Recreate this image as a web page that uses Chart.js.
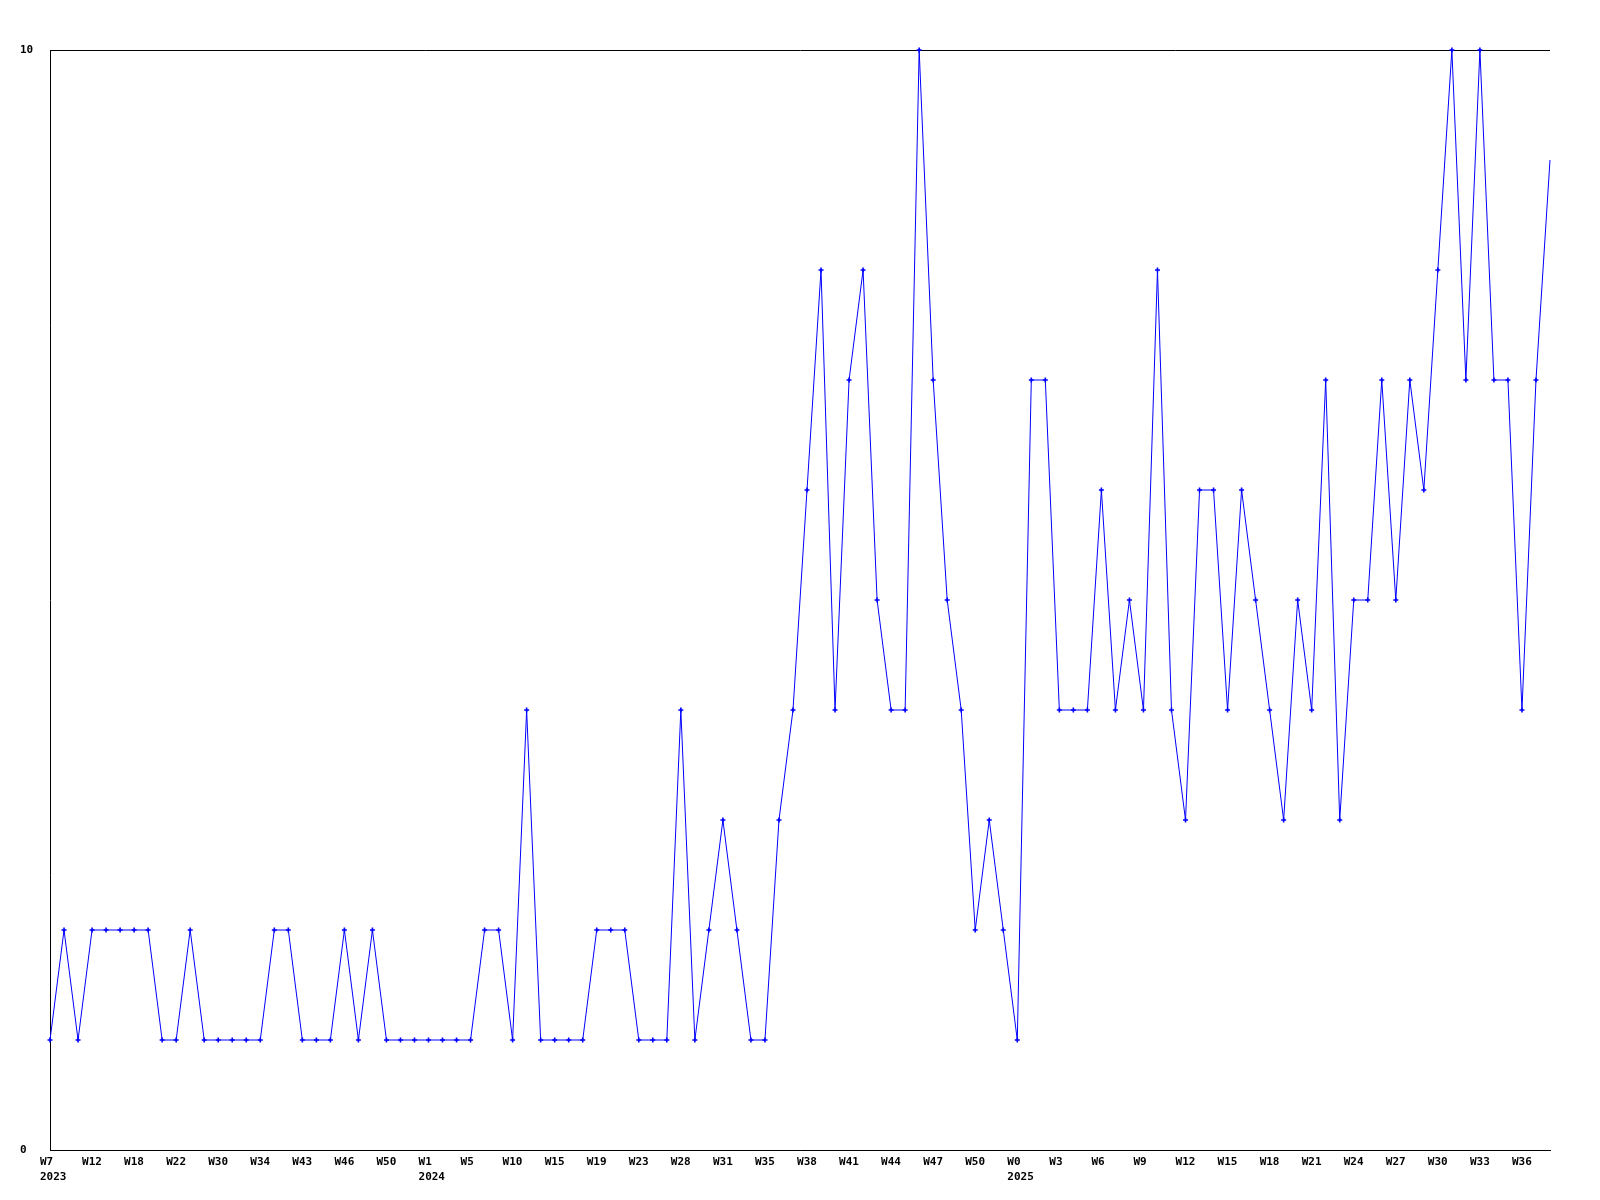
<!DOCTYPE html>
<html>
<head>
<meta charset="utf-8">
<script src="https://cdn.jsdelivr.net/npm/chart.js@4/dist/chart.umd.min.js"></script>
<style>
  html, body { margin: 0; padding: 0; background: #ffffff; }
  #wrap { width: 1600px; height: 1200px; position: relative; }
</style>
</head>
<body>
<div id="wrap"><canvas id="c"></canvas></div>
<script>
// Week numbers of each data point, per year
const weeks2023 = [7, 9, 10, 12, 14, 16, 18, 19, 20, 22, 25, 28, 30, 31, 33, 34, 37, 40, 43, 44, 45, 46, 47, 49, 50, 51, 52];
const weeks2024 = [1, 2, 3, 5, 7, 8, 10, 11, 13, 15, 16, 18, 19, 20, 22, 23, 25, 26, 28, 29, 30, 31, 32, 34, 35, 36, 37, 38, 39, 40, 41, 42, 43, 44, 45, 46, 47, 48, 49, 50, 51, 52];
const weeks2025 = [0, 1, 2, 3, 4, 5, 6, 7, 8, 9, 10, 11, 12, 13, 14, 15, 16, 17, 18, 19, 20, 21, 22, 23, 24, 25, 26, 27, 28, 29, 30, 31, 32, 33, 34, 35, 36, 37, 38];

// Series values (one per week)
const values = [
  1, 2, 1, 2, 2, 2, 2, 2, 1, 1, 2, 1, 1, 1, 1, 1, 2, 2, 1, 1, 1, 2, 1, 2, 1, 1,
  1, 1, 1, 1, 1, 2, 2, 1, 4, 1, 1, 1, 1, 2, 2, 2, 1, 1, 1, 4, 1, 2, 3, 2, 1, 1,
  3, 4, 6, 8, 4, 7, 8, 5, 4, 4, 10, 7, 5, 4, 2, 3, 2, 1, 7, 7, 4, 4, 4, 6, 4, 5,
  4, 8, 4, 3, 6, 6, 4, 6, 5, 4, 3, 5, 4, 7, 3, 5, 5, 7, 5, 7, 6, 8, 10, 7, 10, 7,
  7, 4, 7, 9
];

// Every third category gets a printed x label
const tickEvery = 3;

// y-axis tick values
const yTicks = [0, 10];

const categories = [];
const catYears = [];
weeks2023.forEach(w => { categories.push('W' + w); catYears.push('2023'); });
weeks2024.forEach(w => { categories.push('W' + w); catYears.push('2024'); });
weeks2025.forEach(w => { categories.push('W' + w); catYears.push('2025'); });

const FONT = { family: '"DejaVu Sans Mono", "Liberation Mono", monospace', size: 11, weight: 'bold', lineHeight: '15px' };

new Chart(document.getElementById('c'), {
  type: 'line',
  data: {
    labels: categories,
    datasets: [{
      data: values,
      borderColor: '#0000ff',
      backgroundColor: '#0000ff',
      borderWidth: 1,
      tension: 0,
      fill: false,
      clip: false,
      pointStyle: 'cross',
      pointRadius: ctx => (ctx.dataIndex === values.length - 1 ? 0 : 2.5),
      pointBorderWidth: 1.6,
      pointBorderColor: '#0000ff',
      pointHoverRadius: 0
    }]
  },
  options: {
    responsive: true,
    maintainAspectRatio: false,
    animation: false,
    events: [],
    layout: { padding: { left: 20, right: 50, top: 50, bottom: 0 } },
    plugins: { legend: { display: false }, tooltip: { enabled: false }, title: { display: false } },
    scales: {
      x: {
        type: 'category',
        offset: false,
        grid: { display: false, drawTicks: false },
        border: { display: true, color: '#000000', width: 1 },
        ticks: {
          autoSkip: false,
          maxRotation: 0,
          minRotation: 0,
          align: 'start',
          labelOffset: -10,
          padding: 5,
          color: '#000000',
          font: FONT,
          callback: function (val, i) {
            if (i % tickEvery !== 0) return '';
            const prev = i > 0 ? catYears[i - tickEvery] : null;
            if (prev !== catYears[i]) return [categories[i], catYears[i]];
            return categories[i];
          }
        },
        afterFit: s => { s.height = 50; }
      },
      y: {
        min: yTicks[0],
        max: yTicks[yTicks.length - 1],
        grid: { display: true, drawTicks: false, color: '#000000', lineWidth: 1 },
        border: { display: true, color: '#000000', width: 1 },
        afterBuildTicks: s => { s.ticks = yTicks.map(v => ({ value: v })); },
        ticks: {
          crossAlign: 'far',
          padding: 0,
          color: '#000000',
          font: FONT
        },
        afterFit: s => { s.width = 30; }
      }
    }
  }
});
</script>
</body>
</html>
